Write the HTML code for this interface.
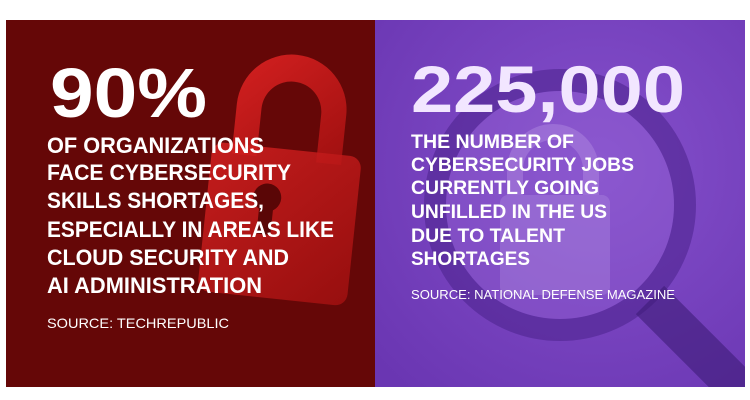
<!DOCTYPE html>
<html><head><meta charset="utf-8"><style>
html,body{margin:0;padding:0;background:#fff;width:750px;height:400px;overflow:hidden}
svg{display:block}
text{font-family:"Liberation Sans",sans-serif;font-weight:bold;fill:#fff}
</style></head><body>
<svg width="750" height="400" viewBox="0 0 750 400">
<defs>
<radialGradient id="pg" cx="0.6" cy="0.4" r="0.8">
<stop offset="0" stop-color="#8550cc"/><stop offset="1" stop-color="#6a36b2"/>
</radialGradient>
<linearGradient id="lk" x1="0" y1="0" x2="1" y2="1">
<stop offset="0" stop-color="#d42020"/><stop offset="1" stop-color="#a01010"/>
</linearGradient>
<clipPath id="rc"><rect x="375" y="20" width="370" height="367"/></clipPath>
<clipPath id="lc"><rect x="6" y="20" width="369" height="367"/></clipPath>
</defs>
<rect x="0" y="0" width="750" height="400" fill="#fff"/>
<rect x="6" y="20" width="369" height="367" fill="#650707"/>
<g clip-path="url(#lc)" transform="rotate(6 290 220)">
<path d="M225 160 L225 110 A55 55 0 0 1 335 110 L335 160 L310 160 L310 112 A30 30 0 0 0 250 112 L250 160 Z" fill="url(#lk)"/>
<rect x="205" y="150" width="150" height="150" rx="12" fill="url(#lk)" opacity="0.85"/>
<circle cx="265" cy="200" r="14" fill="#5a0606"/>
<rect x="258" y="205" width="14" height="32" fill="#5a0606"/>
</g>
<rect x="375" y="20" width="370" height="367" fill="url(#pg)"/>
<g clip-path="url(#rc)">
<circle cx="560" cy="205" r="125" fill="none" stroke="#4e2590" stroke-width="22" opacity="0.6"/>
<circle cx="560" cy="205" r="114" fill="#9a6ad8" opacity="0.3"/>
<path d="M650 300 L760 410" stroke="#3e1c78" stroke-width="40" opacity="0.6"/>
<g opacity="0.3">
<path d="M515 200 L515 170 A38 38 0 0 1 591 170 L591 200" fill="none" stroke="#c8a8ee" stroke-width="16"/>
<rect x="500" y="195" width="110" height="100" rx="8" fill="#b898e6"/>
</g>
</g>
<text x="50" y="117" font-size="70" textLength="157" lengthAdjust="spacingAndGlyphs">90%</text>
<g font-size="22">
<text x="47" y="153" textLength="217" lengthAdjust="spacingAndGlyphs">OF ORGANIZATIONS</text>
<text x="47" y="180" textLength="244" lengthAdjust="spacingAndGlyphs">FACE CYBERSECURITY</text>
<text x="47" y="208" textLength="217" lengthAdjust="spacingAndGlyphs">SKILLS SHORTAGES,</text>
<text x="47" y="237" textLength="287" lengthAdjust="spacingAndGlyphs">ESPECIALLY IN AREAS LIKE</text>
<text x="47" y="265" textLength="242" lengthAdjust="spacingAndGlyphs">CLOUD SECURITY AND</text>
<text x="47" y="293" textLength="215" lengthAdjust="spacingAndGlyphs">AI ADMINISTRATION</text>
</g>
<text x="47" y="328" font-size="14" style="font-weight:normal" textLength="182" lengthAdjust="spacingAndGlyphs">SOURCE: TECHREPUBLIC</text>
<text x="411" y="112" font-size="66" style="fill:#f2e6ff" textLength="274" lengthAdjust="spacingAndGlyphs">225,000</text>
<g font-size="19">
<text x="411" y="148" textLength="163" lengthAdjust="spacingAndGlyphs">THE NUMBER OF</text>
<text x="411" y="171" textLength="223" lengthAdjust="spacingAndGlyphs">CYBERSECURITY JOBS</text>
<text x="411" y="194" textLength="188" lengthAdjust="spacingAndGlyphs">CURRENTLY GOING</text>
<text x="411" y="218" textLength="196" lengthAdjust="spacingAndGlyphs">UNFILLED IN THE US</text>
<text x="411" y="242" textLength="154" lengthAdjust="spacingAndGlyphs">DUE TO TALENT</text>
<text x="411" y="265" textLength="119" lengthAdjust="spacingAndGlyphs">SHORTAGES</text>
</g>
<text x="411" y="299" font-size="13" style="font-weight:normal" textLength="264" lengthAdjust="spacingAndGlyphs">SOURCE: NATIONAL DEFENSE MAGAZINE</text>
</svg>
</body></html>
